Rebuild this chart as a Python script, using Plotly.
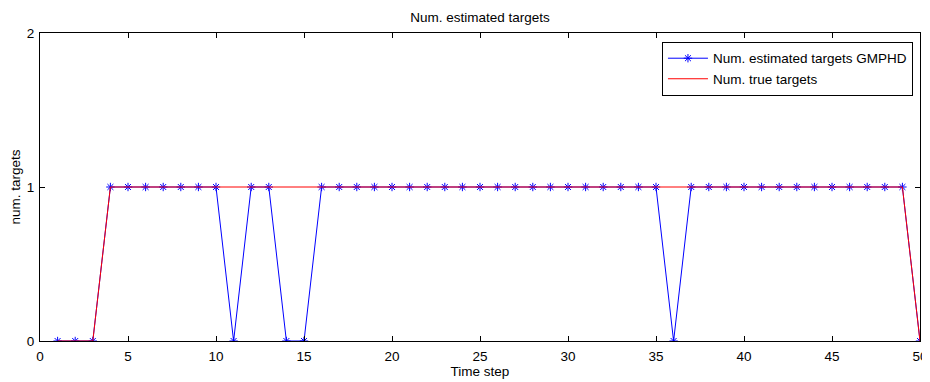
import plotly.graph_objects as go

time_steps = list(range(1, 51))
est_targets = [0, 0, 0, 1, 1, 1, 1, 1, 1, 1,
               0, 1, 1, 0, 0, 1, 1, 1, 1, 1,
               1, 1, 1, 1, 1, 1, 1, 1, 1, 1,
               1, 1, 1, 1, 1, 0, 1, 1, 1, 1,
               1, 1, 1, 1, 1, 1, 1, 1, 1, 0]
true_targets = [0, 0, 0] + [1] * 46 + [0]
x_ticks = [0, 5, 10, 15, 20, 25, 30, 35, 40, 45, 50]
y_ticks = [0, 1, 2]

font_family = "Liberation Sans, Arial, sans-serif"
fs = 13.5

# the page body has an 8px default margin; the figure is sized so that it fits the window
W, H = 922, 374

fig = go.Figure()
fig.add_trace(go.Scatter(
    x=time_steps, y=est_targets, mode="lines+markers",
    name="Num. estimated targets GMPHD",
    line=dict(color="#0000ff", width=1),
    marker=dict(symbol="asterisk-open", size=7, color="#0000ff",
                line=dict(color="#0000ff", width=1)),
))
fig.add_trace(go.Scatter(
    x=time_steps, y=true_targets, mode="lines",
    name="Num. true targets",
    line=dict(color="#ff0000", width=1),
))

axis_common = dict(
    showline=True, linecolor="black", linewidth=1, mirror="ticks",
    ticks="inside", ticklen=5, tickcolor="black", showgrid=False,
    zeroline=False, automargin=False,
    tickfont=dict(size=fs, color="black", family=font_family),
)

fig.update_layout(
    width=W, height=H,
    margin=dict(l=32, r=10, t=25, b=41),
    paper_bgcolor="white", plot_bgcolor="white",
    font=dict(family=font_family, size=fs, color="black"),
    title=dict(text="Num. estimated targets", x=0.5, xref="paper", xanchor="center",
               y=1 - 9 / H, yanchor="middle", font=dict(size=fs)),
    xaxis=dict(range=[0, 50], tickvals=x_ticks, ticklabelstandoff=3,
               title=dict(text="Time step", standoff=0, font=dict(size=fs)), **axis_common),
    yaxis=dict(range=[0, 2], tickvals=y_ticks, ticklabelstandoff=2,
               title=dict(text="num. targets", standoff=3, font=dict(size=fs)), **axis_common),
    legend=dict(x=0.992, y=0.971, xanchor="right", yanchor="top",
                bordercolor="black", borderwidth=1, bgcolor="white",
                font=dict(size=fs), tracegroupgap=0, itemwidth=40),
    showlegend=True,
)

fig.write_html("out.html")
